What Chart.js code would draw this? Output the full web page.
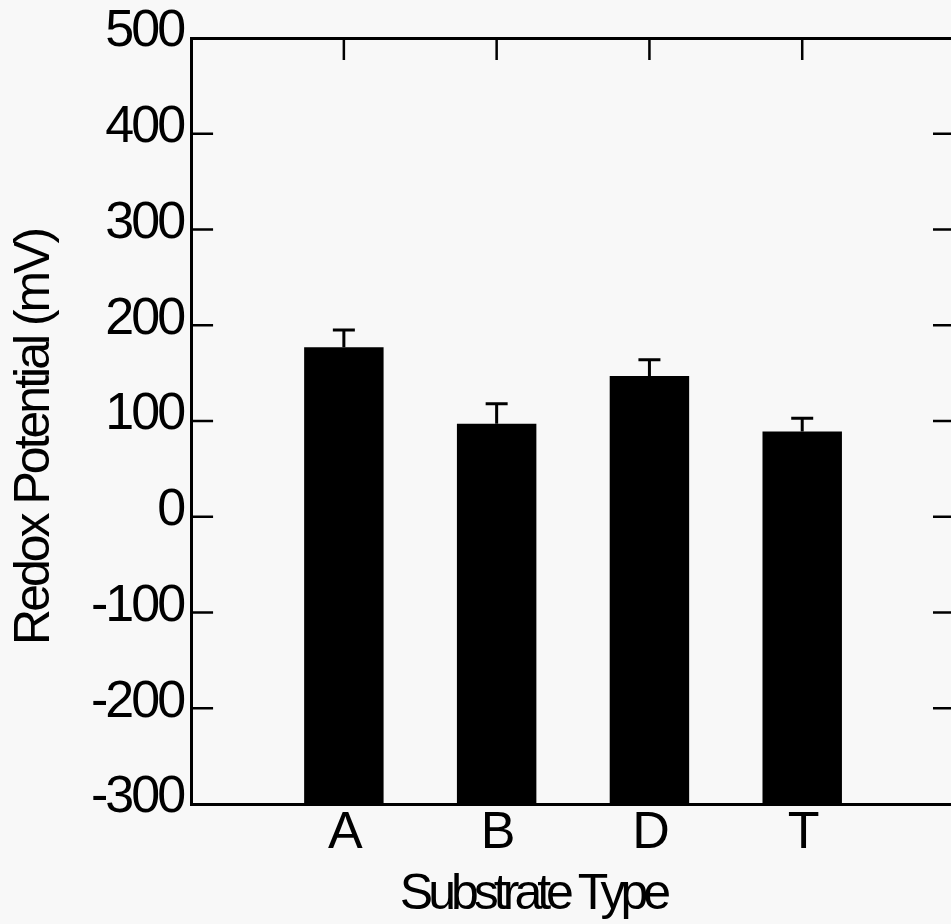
<!DOCTYPE html>
<html>
<head>
<meta charset="utf-8">
<title>Redox Potential by Substrate Type</title>
<script src="https://cdn.jsdelivr.net/npm/chart.js@4.4.1/dist/chart.umd.min.js"></script>
<style>
  html, body { margin: 0; padding: 0; background: #f8f8f8; overflow: hidden; }
  #wrap { width: 980px; height: 924px; }
</style>
</head>
<body>
<div id="wrap"><canvas id="grafico" width="980" height="924"></canvas></div>
<script>
// datos
const categorias = ['A', 'B', 'D', 'T'];
const posiciones = [1, 2, 3, 4];
const medias = [177, 97, 147, 89];
const errores = [18, 21, 17, 14];
const baseBarra = -300;
const yMin = -300;
const yMax = 500;
const yPaso = 100;
const xMin = 0;
const xMax = 5;

const fuente = "'Liberation Sans', Arial, sans-serif";
const relleno = '\u00a0'; // para correr el titulo como en el original

// barras flotantes desde la base del eje
const datosBarras = posiciones.map((x, i) => ({ x: x, y: [baseBarra, medias[i]] }));

// el original usa letra condensada: se aprieta con letterSpacing
const apretar = {
  id: 'apretar',
  beforeDraw(chart) {
    chart.ctx.letterSpacing = '-5px'; // titulo del eje x (capa antes de las barras)
  },
  beforeDatasetsDraw(chart) {
    chart.ctx.letterSpacing = '0px';
  },
  afterDatasetsDraw(chart) {
    chart.ctx.letterSpacing = '-3px'; // etiquetas y titulo del eje y
  },
  afterDraw(chart) {
    chart.ctx.letterSpacing = '0px';
  }
};

// barras de error (solo hacia arriba) y marcas hacia dentro
const extras = {
  id: 'extras',
  afterDatasetsDraw(chart) {
    const ctx = chart.ctx;
    const xs = chart.scales.x;
    const ys = chart.scales.y;
    ctx.save();
    ctx.strokeStyle = '#000';
    ctx.lineWidth = 3;
    posiciones.forEach((p, i) => {
      const px = xs.getPixelForValue(p);
      const top = ys.getPixelForValue(medias[i]);
      const cap = ys.getPixelForValue(medias[i] + errores[i]);
      ctx.beginPath();
      ctx.moveTo(px, top);
      ctx.lineTo(px, cap);
      ctx.moveTo(px - 11, cap);
      ctx.lineTo(px + 11, cap);
      ctx.stroke();
    });

    const area = chart.chartArea;
    const largo = 22;
    ctx.lineWidth = 2.5;
    ctx.beginPath();
    for (let v = yMin + yPaso; v < yMax; v += yPaso) {
      const py = ys.getPixelForValue(v);
      ctx.moveTo(area.left, py);
      ctx.lineTo(area.left + largo, py);
      ctx.moveTo(area.right, py);
      ctx.lineTo(area.right - largo, py);
    }
    posiciones.forEach(p => {
      const px = xs.getPixelForValue(p);
      ctx.moveTo(px, area.top);
      ctx.lineTo(px, area.top + largo);
      ctx.moveTo(px, area.bottom);
      ctx.lineTo(px, area.bottom - largo);
    });
    ctx.stroke();
    ctx.restore();
  }
};

const borde = { display: true, color: '#000', width: 3 };

new Chart(document.getElementById('grafico').getContext('2d'), {
  type: 'bar',
  data: {
    datasets: [{
      label: 'Redox Potential',
      data: datosBarras,
      backgroundColor: '#000',
      borderWidth: 0,
      categoryPercentage: 1,
      barPercentage: 0.52
    }]
  },
  options: {
    responsive: false,
    animation: false,
    layout: { padding: { top: 38, left: 10, right: 25, bottom: 0 } },
    plugins: {
      legend: { display: false },
      tooltip: { enabled: false }
    },
    scales: {
      x: {
        type: 'linear',
        position: 'bottom',
        offset: false,
        min: xMin,
        max: xMax,
        border: borde,
        grid: { display: false, drawTicks: false, z: -1 },
        ticks: {
          stepSize: 1,
          color: '#000',
          padding: 4,
          z: 1,
          maxRotation: 0,
          autoSkip: false,
          font: { family: fuente, size: 52, lineHeight: 1 },
          callback: v => {
            const i = posiciones.indexOf(v);
            return i >= 0 ? categorias[i] : '';
          }
        },
        title: {
          display: true,
          text: 'Substrate Type' + relleno.repeat(9),
          color: '#000',
          padding: { top: 6, bottom: 4 },
          font: { family: fuente, size: 50, lineHeight: 1 }
        }
      },
      x2: {
        type: 'linear',
        position: 'top',
        offset: false,
        min: xMin,
        max: xMax,
        border: borde,
        grid: { display: false, drawTicks: false },
        ticks: { display: false }
      },
      y: {
        min: yMin,
        max: yMax,
        border: { display: true, color: '#000', width: 3, z: 1 },
        grid: { display: false, drawTicks: false, z: 1 },
        ticks: {
          stepSize: yPaso,
          color: '#000',
          padding: 8,
          labelOffset: -6,
          z: 1,
          font: { family: fuente, size: 52, lineHeight: 1 }
        },
        title: {
          display: true,
          text: 'Redox Potential (mV)' + relleno.repeat(3),
          color: '#000',
          padding: { top: 0, bottom: 11 },
          font: { family: fuente, size: 50, lineHeight: 1 }
        }
      },
      y2: {
        position: 'right',
        min: yMin,
        max: yMax,
        border: borde,
        grid: { display: false, drawTicks: false },
        ticks: { display: false }
      }
    }
  },
  plugins: [apretar, extras]
});
</script>
</body>
</html>
